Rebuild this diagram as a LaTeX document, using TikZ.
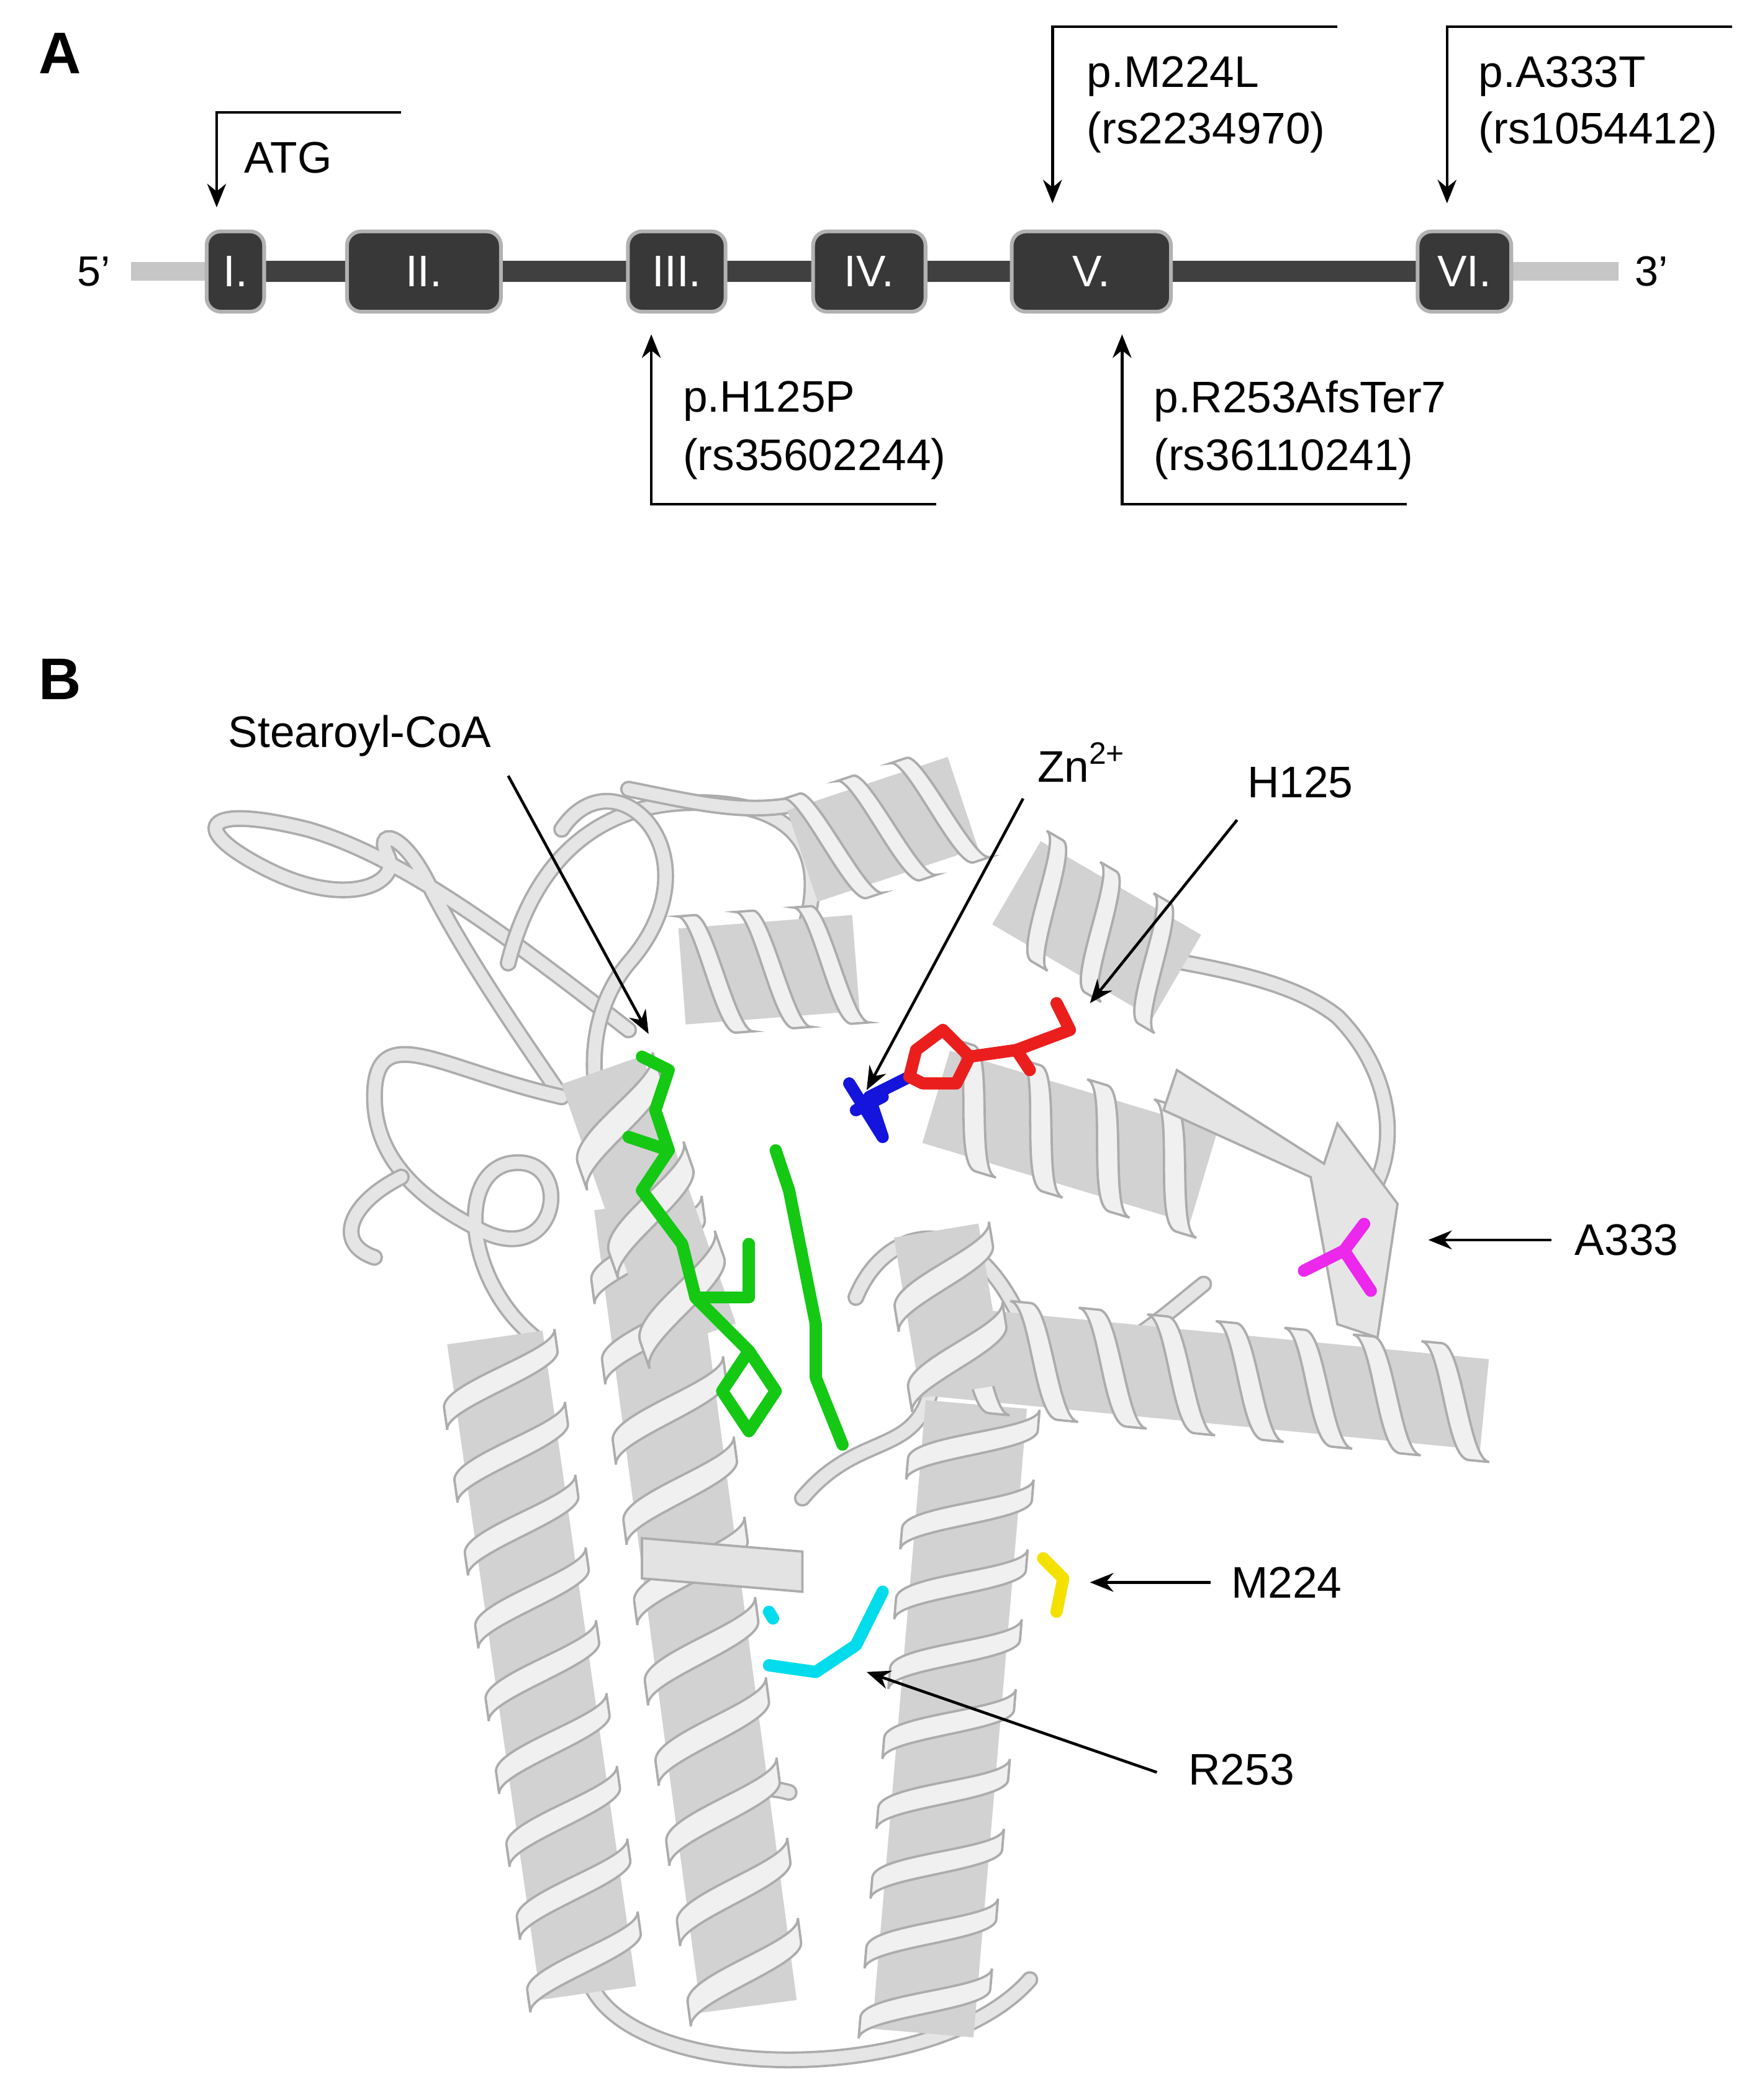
\documentclass[tikz,border=0pt]{standalone}
\usepackage{fontspec}
\setmainfont{Liberation Sans}
\usetikzlibrary{arrows.meta,calc}
\definecolor{cyanstick}{RGB}{0,220,235}
\definecolor{greenstick}{RGB}{20,200,20}
\definecolor{redstick}{RGB}{235,30,30}
\definecolor{bluestick}{RGB}{20,20,220}
\definecolor{magstick}{RGB}{235,40,235}
\definecolor{yelstick}{RGB}{245,225,0}
\tikzset{
  lbl/.style={font=\fontsize{9.4}{11}\selectfont, anchor=west, inner sep=0pt},
  ptr/.style={-{Stealth[length=5pt,width=4pt]}, line width=0.6pt},
  exon/.style={draw=gray!60, line width=0.8pt, fill=black!78, rounded corners=3pt, text=white, font=\fontsize{9.4}{10}\selectfont, minimum height=0.6cm},
  loopline/.style={draw=gray!65, double=gray!20, double distance=2.6pt, line width=0.5pt, line cap=round},
  stick/.style={line width=2.6pt, line cap=round, line join=round},
}
\newcommand\myhelix[6]{% x1 y1 x2 y2 turns width
  \pgfmathsetmacro\hdx{#3-#1}\pgfmathsetmacro\hdy{#4-#2}
  \pgfmathsetmacro\hang{atan2(-\hdy,\hdx)}
  \pgfmathsetmacro\hlen{veclen(\hdx,\hdy)}
  \pgfmathsetmacro\hp{\hlen/#5}
  \pgfmathsetmacro\hw{#6/2}
  \begin{scope}[shift={(#1,#2)}, rotate=\hang]
    \fill[gray!35] (0,-\hw*0.8) rectangle (\hlen,\hw*0.8);
    \foreach \k in {1,...,#5}{
      \pgfmathsetmacro\s{(\k-1)*\hp}
      \filldraw[draw=gray!65, fill=gray!12, line width=0.5pt]
        (\s,-\hw) .. controls (\s+0.3*\hp,-\hw) and (\s+0.5*\hp,\hw) .. (\s+0.85*\hp,\hw)
        -- (\s+1.15*\hp,\hw) .. controls (\s+0.85*\hp,\hw) and (\s+0.6*\hp,-\hw) .. (\s+0.3*\hp,-\hw) -- cycle;
    }
  \end{scope}}
\begin{document}
\begin{tikzpicture}[x=0.01cm, y=-0.01cm]
\useasboundingbox (0,0) rectangle (1310,1570);
% ---------- Panel A ----------
\node[font=\fontsize{12.5}{12}\selectfont\bfseries] (labA) at (45,40) {A};
\coordinate (g0) at (98,203); \coordinate (g1) at (155,203);
\coordinate (g2) at (1130,203); \coordinate (g3) at (1210,203);
\draw[line width=4pt, gray!45] (g0) -- (g1);
\draw[line width=4pt, gray!45] (g2) -- (g3);
\draw[line width=4.5pt, black!75] (g1) -- (g2);
\node[font=\fontsize{9}{10}\selectfont] (p5) at (70,203) {5’};
\node[font=\fontsize{9}{10}\selectfont] (p3) at (1235,203) {3’};
\node[exon, minimum width=0.43cm] (e1) at (176,203) {I.};
\node[exon, minimum width=1.15cm] (e2) at (317,203) {II.};
\node[exon, minimum width=0.73cm] (e3) at (506,203) {III.};
\node[exon, minimum width=0.84cm] (e4) at (650,203) {IV.};
\node[exon, minimum width=1.19cm] (e5) at (816,203) {V.};
\node[exon, minimum width=0.70cm] (e6) at (1095,203) {VI.};
% arrows
\coordinate (atg0) at (300,84);
\draw[ptr] (atg0) -- (162,84) -- (162,155);
\node[lbl] (atg) at (182,118) {ATG};
\coordinate (m0) at (1000,20);
\draw[ptr] (m0) -- (787,20) -- (787,152);
\node[lbl] (m1) at (812,57) {p.M224L};
\node[lbl] (m2) at (812,99) {(rs2234970)};
\coordinate (a0) at (1295,20);
\draw[ptr] (a0) -- (1082,20) -- (1082,152);
\node[lbl] (a1) at (1105,57) {p.A333T};
\node[lbl] (a2) at (1105,99) {(rs1054412)};
\coordinate (h0) at (700,377);
\draw[ptr] (h0) -- (487,377) -- (487,250);
\node[lbl] (h1) at (510,300) {p.H125P};
\node[lbl] (h2) at (510,343) {(rs35602244)};
\coordinate (r0) at (1052,377);
\draw[ptr] (r0) -- (839,377) -- (839,250);
\node[lbl] (r1) at (862,300) {p.R253AfsTer7};
\node[lbl] (r2) at (862,343) {(rs36110241)};
% ---------- Panel B ----------
\node[font=\fontsize{12.5}{12}\selectfont\bfseries] (labB) at (45,508) {B};
% loops
\draw[loopline] (470,770) .. controls (380,700) and (300,640) .. (230,620) .. controls (150,600) and (140,620) .. (200,650) .. controls (260,680) and (300,660) .. (290,640) .. controls (280,620) and (300,620) .. (320,660) .. controls (350,720) and (400,790) .. (420,820);
\draw[loopline] (420,820) .. controls (330,800) and (280,760) .. (280,820) .. controls (280,870) and (320,900) .. (360,920) .. controls (420,950) and (430,860) .. (380,870) .. controls (340,880) and (350,960) .. (400,1000);
\draw[loopline] (380,720) .. controls (400,640) and (450,600) .. (520,600) .. controls (600,600) and (620,640) .. (600,700);
\draw[loopline] (420,620) .. controls (460,560) and (540,640) .. (470,720) .. controls (420,780) and (450,880) .. (500,920);
\draw[loopline] (800,700) .. controls (850,720) and (950,720) .. (1000,760) .. controls (1040,800) and (1050,860) .. (1020,900);
\draw[loopline] (640,970) .. controls (660,920) and (720,900) .. (760,980) .. controls (800,1050) and (850,1000) .. (900,960);
\draw[loopline] (300,880) .. controls (260,900) and (250,930) .. (280,940);
\draw[loopline] (560,1470) .. controls (500,1420) and (520,1320) .. (590,1340);
\draw[loopline] (440,1480) .. controls (470,1560) and (700,1560) .. (770,1480);
\draw[loopline] (600,1120) .. controls (650,1060) and (700,1100) .. (700,1000);
\draw[loopline] (470,590) .. controls (520,600) and (560,610) .. (600,600);
% helices
\myhelix{370}{1000}{440}{1490}{9}{90}
\myhelix{480}{900}{560}{1500}{10}{90}
\myhelix{730}{1050}{690}{1520}{9}{95}
\myhelix{700}{1010}{1110}{1050}{8}{85}
\myhelix{600}{640}{720}{600}{3}{90}
\myhelix{510}{730}{640}{720}{3}{90}
\myhelix{760}{660}{880}{730}{3}{90}
\myhelix{700}{820}{900}{880}{4}{90}
\myhelix{450}{800}{520}{1000}{3}{80}
\myhelix{700}{920}{720}{1040}{2}{80}
% beta strands right
\filldraw[draw=gray!65, fill=gray!20, line width=0.5pt] (880,800) -- (990,870) -- (1000,840) -- (1045,900) -- (1030,1000) -- (1000,990) -- (980,880) -- (870,830) -- cycle;
\filldraw[draw=gray!65, fill=gray!22, line width=0.5pt] (480,1150) -- (600,1160) -- (600,1190) -- (480,1180) -- cycle;
% sticks
\draw[stick, greenstick] (480,790) -- (500,800) -- (490,830) -- (500,860) -- (480,890) -- (510,930) -- (520,970) -- (560,1010) -- (540,1040) -- (560,1070) -- (580,1040) -- (560,1010);
\draw[stick, greenstick] (500,860) -- (470,850);
\draw[stick, greenstick] (520,970) -- (560,970) -- (560,930);
\draw[stick, greenstick] (590,890) -- (600,940) -- (610,990) -- (610,1030) -- (630,1080);
\draw[stick, greenstick] (580,860) -- (590,890);
\draw[stick, bluestick] (635,810) -- (660,850) -- (650,820) -- (680,805);
\draw[stick, bluestick] (640,830) -- (660,820);
\draw[stick, redstick] (680,805) -- (685,785) -- (705,770) -- (725,790) -- (715,810) -- (690,810) -- cycle;
\draw[stick, redstick] (725,790) -- (760,785) -- (800,770) -- (790,750);
\draw[stick, redstick] (760,785) -- (770,800);
\draw[stick, magstick] (975,950) -- (1005,935) -- (1020,915) (1005,935) -- (1025,965);
\draw[stick, yelstick] (780,1165) -- (795,1180) -- (790,1205);
\draw[stick, cyanstick] (575,1245) -- (610,1250) -- (640,1230) -- (650,1210) -- (660,1190);
\draw[stick, cyanstick] (575,1205) -- (578,1210);
% labels B
\node[lbl] (tst) at (170,550) {Stearoyl-CoA};
\coordinate (st0) at (380,580);
\coordinate (st1) at (485,773);
\draw[ptr] (st0) -- (st1);
\node[lbl] (tzn) at (775,570) {Zn\textsuperscript{2+}};
\coordinate (zn0) at (765,597); \coordinate (zn1) at (648,815);
\draw[ptr] (zn0) -- (zn1);
\node[lbl] (th) at (932,585) {H125};
\coordinate (h25a) at (925,613); \coordinate (h25b) at (815,750);
\draw[ptr] (h25a) -- (h25b);
\node[lbl] (ta) at (1177,927) {A333};
\coordinate (aa) at (1160,927); \coordinate (ab) at (1068,927);
\draw[ptr] (aa) -- (ab);
\node[lbl] (tm) at (920,1183) {M224};
\coordinate (ma) at (905,1183); \coordinate (mb) at (815,1183);
\draw[ptr] (ma) -- (mb);
\node[lbl] (tr) at (888,1323) {R253};
\coordinate (ra) at (865,1325); \coordinate (rb) at (648,1250);
\draw[ptr] (ra) -- (rb);
\end{tikzpicture}
\end{document}
